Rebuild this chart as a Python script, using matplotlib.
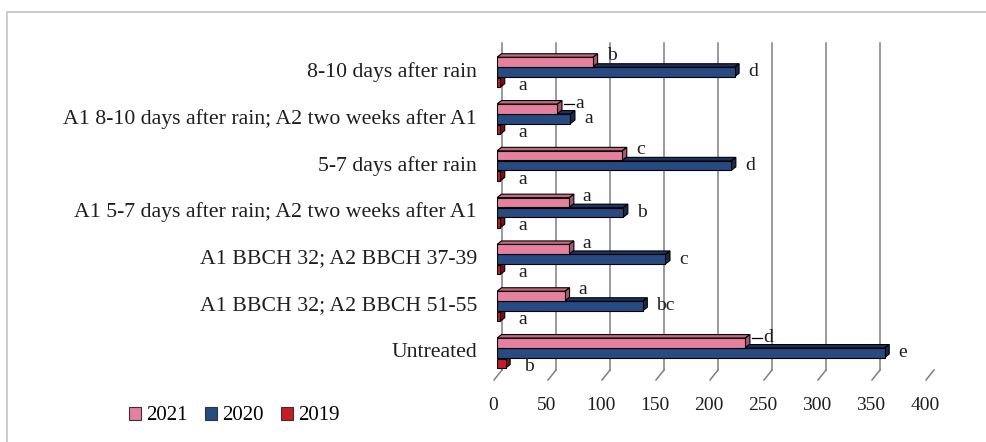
import matplotlib
matplotlib.use("Agg")
import matplotlib.pyplot as plt
import matplotlib.transforms as mtransforms
from matplotlib.patches import Polygon, Rectangle

# Treatments, top to bottom
categories = [
    "8-10 days after rain",
    "A1 8-10 days after rain; A2 two weeks after A1",
    "5-7 days after rain",
    "A1 5-7 days after rain; A2 two weeks after A1",
    "A1 BBCH 32; A2 BBCH 37-39",
    "A1 BBCH 32; A2 BBCH 51-55",
    "Untreated",
]
years = ["2021", "2020", "2019"]
values_2021 = [89, 56, 116, 67, 67, 63, 230]
values_2020 = [220, 68, 217, 117, 156, 135, 359]
values_2019 = [3, 3, 3, 3, 3, 3, 8]
letters_2021 = ["b", "a", "c", "a", "a", "a", "d"]
letters_2020 = ["d", "a", "d", "b", "c", "bc", "e"]
letters_2019 = ["a", "a", "a", "a", "a", "a", "b"]
xticks = [0, 50, 100, 150, 200, 250, 300, 350, 400]

SERIF = ["Liberation Serif", "DejaVu Serif"]
FS = 14
FS_CAT = 15.7
TXT = "#1E1E1E"

W, H = 987, 442
fig = plt.figure(figsize=(W / 100, H / 100), dpi=100)
fig.patch.set_facecolor("white")

# outer frame
fig.add_artist(Rectangle((7 / W, -0.1), 1.2, (H - 12) / H + 0.1, transform=fig.transFigure,
                         fill=False, edgecolor="#C4C4C4", lw=1.2))

ax_left, ax_right = 497, 929
ax_top, ax_bot = 38, 372
ax = fig.add_axes([ax_left / W, (H - ax_bot) / H, (ax_right - ax_left) / W, (ax_bot - ax_top) / H])
ax.axis("off")
ax.set_xlim(0, 400)

row_px = 46.8
first_px = 72
ax.set_ylim((ax_bot - first_px) / row_px, (ax_top - first_px) / row_px)

def off(dx, dy):
    return mtransforms.offset_copy(ax.transData, fig=fig, x=dx, y=dy, units="dots")

def px_to_y(p):
    return (p - first_px) / row_px

inv = ax.transData.inverted()

# back wall gridlines and floor ticks
grid_top = px_to_y(43)
grid_bot = px_to_y(370)
for t in xticks:
    ax.plot([t, t], [grid_top, grid_bot], color="#7F7F7F", lw=1.1, transform=off(5, 0), zorder=1)
    # diagonal floor tick from back to front
    q0 = inv.transform(off(5, 0).transform((t, grid_bot)))
    q1 = inv.transform(off(-3, -10).transform((t, grid_bot)))
    ax.plot([q0[0], q1[0]], [q0[1], q1[1]], color="#7F7F7F", lw=1.1, zorder=1, clip_on=False)
    ax.text(t, grid_bot, str(t), transform=off(-4, -36), ha="center", va="center",
            fontsize=FS, family=SERIF, color=TXT)

# 3D-style bars
h = 9.5 / row_px
depth_x = 4.5 * 400 / (ax_right - ax_left)
depth_y = 3.5 / row_px

series = [
    (values_2019, 10.5 / row_px, "#C41E24", "#8E1418", "#7A1014"),
    (values_2020, 0.0, "#284A82", "#1C335E", "#17294C"),
    (values_2021, -10.0 / row_px, "#E5819E", "#C56883", "#A85570"),
]

for k, (vals, dy, front, topc, endc) in enumerate(series):
    z = 3 + k
    for i, v in enumerate(vals):
        y = i + dy
        y0, y1 = y - h / 2, y + h / 2
        top = Polygon([(0, y0), (v, y0), (v + depth_x, y0 - depth_y), (depth_x, y0 - depth_y)],
                      closed=True, facecolor=topc, edgecolor="black", lw=0.8, zorder=z)
        end = Polygon([(v, y0), (v + depth_x, y0 - depth_y), (v + depth_x, y1 - depth_y), (v, y1)],
                      closed=True, facecolor=endc, edgecolor="black", lw=0.8, zorder=z)
        ax.add_patch(top)
        ax.add_patch(end)
    ax.barh([i + dy for i in range(len(vals))], vals, height=h, left=0, color=front,
            edgecolor="black", lw=0.8, zorder=z + 0.5)

# significance letters
for i, (v, l) in enumerate(zip(values_2020, letters_2020)):
    ax.text(v + depth_x, i, l, transform=off(9, 0), ha="left", va="center",
            fontsize=FS, family=SERIF, color=TXT, zorder=10)
for i, (v, l) in enumerate(zip(values_2019, letters_2019)):
    ax.text(v + depth_x, i + 10.5 / row_px, l, transform=off(14, -3), ha="left", va="center",
            fontsize=FS, family=SERIF, color=TXT, zorder=10)
leader = [False, True, False, False, False, False, True]
for i, (v, l) in enumerate(zip(values_2021, letters_2021)):
    yy = i - 10.0 / row_px
    if leader[i]:
        a0 = inv.transform(off(2, 5).transform((v + depth_x, yy)))
        a1 = inv.transform(off(12, 5).transform((v + depth_x, yy)))
        ax.plot([a0[0], a1[0]], [a0[1], a1[1]], color="black", lw=0.9, zorder=10)
        ax.text(v + depth_x, yy, l, transform=off(13, 5), ha="left", va="center",
                fontsize=FS, family=SERIF, color=TXT, zorder=10)
    else:
        ax.text(v + depth_x, yy, l, transform=off(9, 6), ha="left", va="center",
                fontsize=FS, family=SERIF, color=TXT, zorder=10)

# category labels
for i, c in enumerate(categories):
    ax.text(0, i, c, transform=off(-20, 0), ha="right", va="center",
            fontsize=FS_CAT, family=SERIF, color=TXT)

# legend
leg_colors = ["#E5819E", "#284A82", "#C41E24"]
handles = [Rectangle((0, 0), 1, 1, facecolor=c, edgecolor="#333333", lw=0.8) for c in leg_colors]
fig.legend(handles, years, loc="center left", bbox_to_anchor=(110 / W, 1 - 416 / H),
           ncol=3, frameon=False, handlelength=0.6, handleheight=0.6, handletextpad=0.25,
           columnspacing=0.8, prop={"family": SERIF, "size": 15})

fig.savefig("out.png", dpi=100)
